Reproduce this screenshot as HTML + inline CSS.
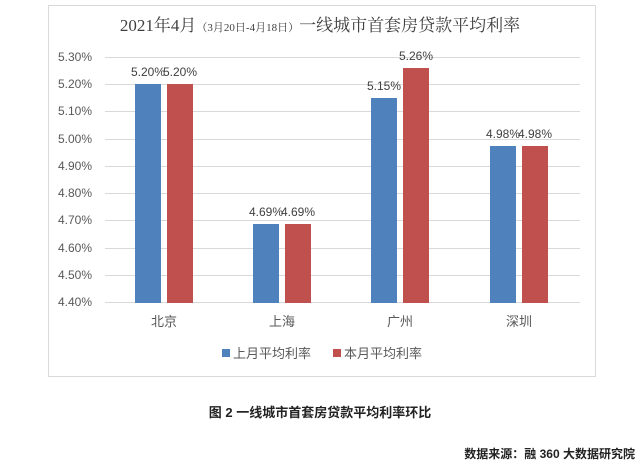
<!DOCTYPE html>
<html><head><meta charset="utf-8"><style>
body{margin:0;background:#fff;width:640px;height:467px;overflow:hidden}
svg text{font-family:"Liberation Sans","Noto Sans CJK SC",sans-serif}
</style></head><body>
<svg width="640" height="467" xmlns="http://www.w3.org/2000/svg">
<rect x="48.5" y="5.5" width="547" height="371" fill="#fff" stroke="#d9d9d9"/>
<text x="320" y="31" text-anchor="middle" font-size="17" fill="#404040" style="font-family:'Liberation Serif','Noto Serif CJK SC',serif">2021年4月<tspan font-size="11">（3月20日-4月18日）</tspan>一线城市首套房贷款平均利率</text>
<g stroke="#d9d9d9" stroke-width="1">
<line x1="105" x2="580" y1="57.5" y2="57.5"/><line x1="105" x2="580" y1="84.5" y2="84.5"/>
<line x1="105" x2="580" y1="111.5" y2="111.5"/><line x1="105" x2="580" y1="139.5" y2="139.5"/>
<line x1="105" x2="580" y1="166.5" y2="166.5"/><line x1="105" x2="580" y1="193.5" y2="193.5"/>
<line x1="105" x2="580" y1="220.5" y2="220.5"/><line x1="105" x2="580" y1="248.5" y2="248.5"/>
<line x1="105" x2="580" y1="275.5" y2="275.5"/><line x1="105" x2="580" y1="302.5" y2="302.5"/>
</g>
<g font-size="12" fill="#595959" text-anchor="end">
<text x="92" y="61">5.30%</text><text x="92" y="88">5.20%</text><text x="92" y="115">5.10%</text>
<text x="92" y="143">5.00%</text><text x="92" y="170">4.90%</text><text x="92" y="197">4.80%</text>
<text x="92" y="224">4.70%</text><text x="92" y="252">4.60%</text><text x="92" y="279">4.50%</text>
<text x="92" y="306">4.40%</text>
</g>
<g fill="#4f81bd">
<rect x="135" y="84" width="26" height="219"/>
<rect x="253" y="224" width="26" height="79"/>
<rect x="371" y="98" width="26" height="205"/>
<rect x="490" y="146" width="26" height="157"/>
</g>
<g fill="#c0504d">
<rect x="167" y="84" width="26" height="219"/>
<rect x="285" y="224" width="26" height="79"/>
<rect x="403" y="68" width="26" height="235"/>
<rect x="522" y="146" width="26" height="157"/>
</g>
<g font-size="12" fill="#404040" text-anchor="middle">
<text x="148" y="76">5.20%</text><text x="180" y="76">5.20%</text>
<text x="266" y="216">4.69%</text><text x="298" y="216">4.69%</text>
<text x="384" y="90">5.15%</text><text x="416" y="60">5.26%</text>
<text x="503" y="138">4.98%</text><text x="535" y="138">4.98%</text>
</g>
<g font-size="13" fill="#595959" text-anchor="middle">
<text x="164" y="326">北京</text><text x="282" y="326">上海</text>
<text x="400" y="326">广州</text><text x="519" y="326">深圳</text>
</g>
<rect x="222" y="349" width="8" height="8" fill="#4f81bd"/>
<text x="233" y="358" font-size="13" fill="#595959">上月平均利率</text>
<rect x="333" y="349" width="8" height="8" fill="#c0504d"/>
<text x="344" y="358" font-size="13" fill="#595959">本月平均利率</text>
<text x="320" y="417" font-size="13" font-weight="bold" fill="#222" text-anchor="middle">图 2  一线城市首套房贷款平均利率环比</text>
<text x="635" y="458" font-size="12" font-weight="bold" fill="#222" text-anchor="end">数据来源：融 360 大数据研究院</text>
</svg>
</body></html>
